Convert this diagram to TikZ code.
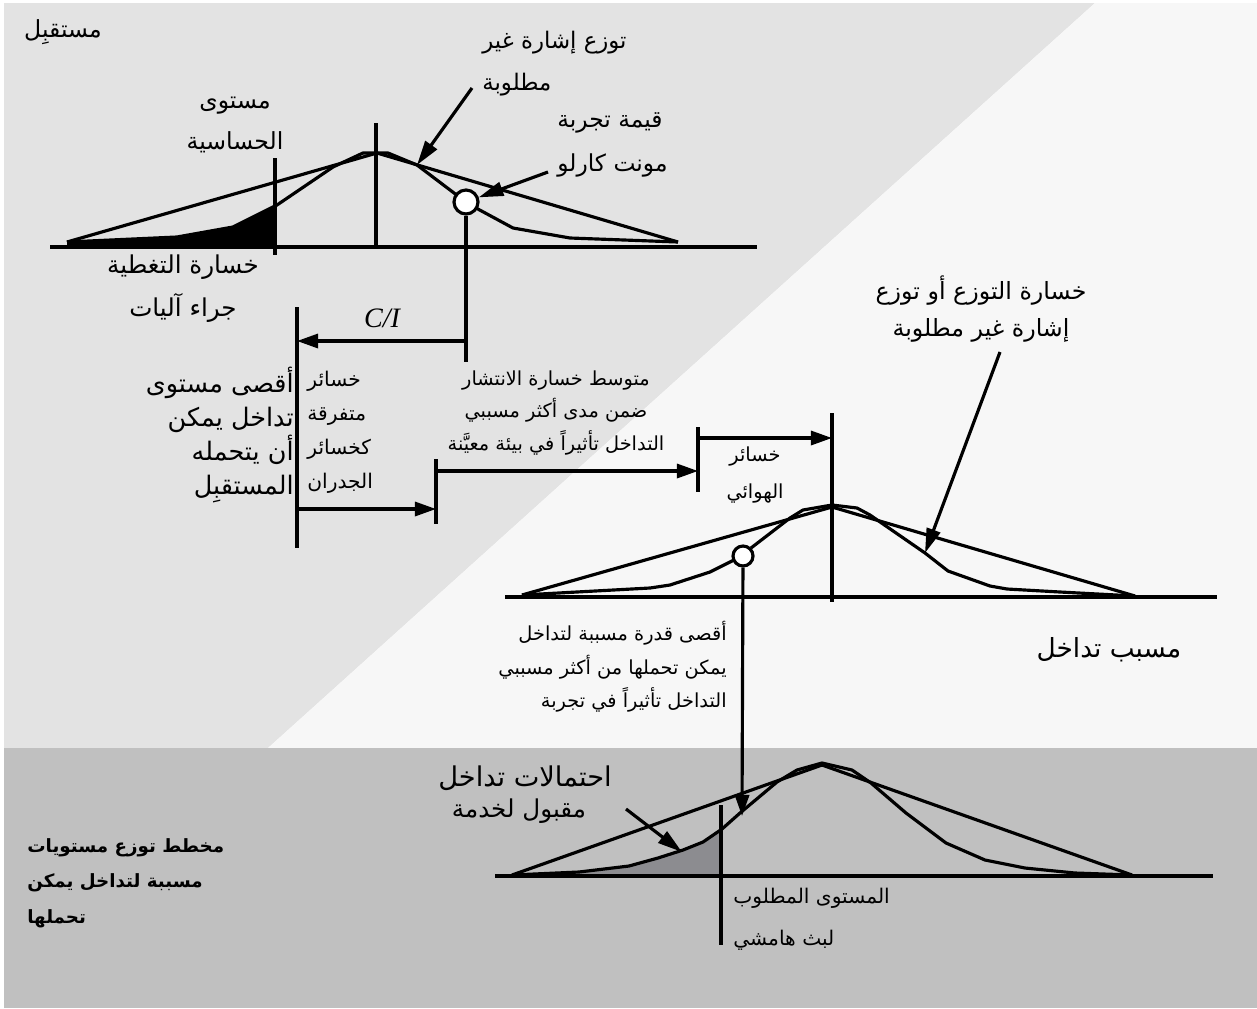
\documentclass[tikz,border=0pt]{standalone}
\usepackage{fontspec}
\setmainfont{Liberation Serif}
\newfontfamily\arabicfont[Script=Arabic]{DejaVu Sans}
\TeXXeTstate=1
\usetikzlibrary{arrows.meta}
\definecolor{lightg}{HTML}{E3E3E3}
\definecolor{nearw}{HTML}{F7F7F7}
\definecolor{darkg}{HTML}{C0C0C0}
\definecolor{tailgray}{HTML}{8C8C90}
\newcommand{\arfs}[2]{\arabicfont\fontsize{#1}{#2}\selectfont}
\begin{document}
\begin{tikzpicture}[x=0.02cm,y=-0.02cm,
  ln/.style={line width=1.8pt, line join=round},
  base/.style={line width=2.2pt},
  arr/.style={line width=1.8pt, -{Triangle[length=12pt,width=8pt]}},
  ptr/.style={line width=1.8pt, -{Triangle[length=14pt,width=8pt]}},
  ar/.style={inner sep=0pt},
  mk/.style={circle, draw, fill=white, line width=1.8pt, inner sep=0pt}
]
\useasboundingbox (0,0) rectangle (1257,1008);
% backgrounds
\fill[white] (0,0) rectangle (1257,1008);
\fill[lightg] (4,3) -- (1095,3) -- (268,748) -- (4,748) -- cycle;
\fill[nearw] (1095,3) -- (1257,3) -- (1257,748) -- (268,748) -- cycle;
\fill[darkg] (4,748) rectangle (1257,1008);

% ===== top graph (receiver) =====
\fill[black] (67,243) -- (177,237) -- (233,227) -- (275,206) -- (275,246) -- (67,246) -- cycle;
\draw[base] (50,247) -- (757,247);
\draw[ln] (67,242) -- (377,153) -- (678,242);
\draw[ln] (67,242) -- (177,237) -- (233,227) -- (277,205) -- (333,167) -- (363,153) -- (388,153) -- (417,165) -- (458,196);
\draw[ln] (476,208) -- (513,228) -- (570,238) -- (678,242);
\draw[ln] (376,123) -- (376,247);
\draw[ln] (275,158) -- (275,255);
\node[mk, minimum size=0.48cm] (mc1) at (466,202) {};

% ===== middle graph (interferer) =====
\draw[base] (505,597) -- (1217,597);
\draw[ln] (522,595) -- (832,507) -- (1135,596);
\draw[ln] (522,595) -- (650,588) -- (670,585) -- (710,572) -- (736,559);
\draw[ln] (751,548) -- (790,518) -- (803,510) -- (832,505) -- (857,508) -- (870,515) -- (925,553) -- (948,571) -- (990,586) -- (1007,589) -- (1060,592) -- (1135,596);
\draw[ln] (832,413) -- (832,602);
\node[mk, minimum size=0.40cm] (mc2) at (743,556) {};

% ===== bottom graph =====
\fill[tailgray] (512,875) -- (579,872) -- (629,866) -- (658,858) -- (683,850) -- (703,842) -- (721,830) -- (721,875) -- cycle;
\draw[base] (495,876) -- (1213,876);
\draw[ln] (512,875) -- (822,765) -- (1132,875);
\draw[ln] (512,875) -- (579,872) -- (629,866) -- (658,858) -- (683,850) -- (703,842) -- (722,829) -- (740,813) -- (777,782) -- (797,770) -- (822,763) -- (852,770) -- (871,783) -- (906,813) -- (946,843) -- (985,860) -- (1025,868) -- (1075,873) -- (1132,875);
\draw[ln] (721,805) -- (721,945);

% ===== dimension lines =====
\coordinate (ciend) at (466,362);
\draw[ln] (mc1) -- (ciend);
\coordinate (cistart) at (466,341);
\coordinate (citip) at (297,341);
\draw[arr] (cistart) -- (citip);
\coordinate (lvtop) at (297,307);
\coordinate (lvbot) at (297,548);
\draw[ln] (lvtop) -- (lvbot);
\coordinate (t1top) at (436,459);
\coordinate (t1bot) at (436,524);
\draw[ln] (t1top) -- (t1bot);
\coordinate (a1s) at (297,509);
\coordinate (a1e) at (436,509);
\draw[arr] (a1s) -- (a1e);
\coordinate (t2top) at (698,427);
\coordinate (t2bot) at (698,492);
\draw[ln] (t2top) -- (t2bot);
\coordinate (a2s) at (436,471);
\coordinate (a2e) at (698,471);
\draw[arr] (a2s) -- (a2e);
\coordinate (a3s) at (698,438);
\coordinate (a3e) at (832,438);
\draw[arr] (a3s) -- (a3e);
\coordinate (dropend) at (742,816);
\draw[arr] (mc2) -- (dropend);

% ===== texts =====
\node[ar, font=\arfs{13.4}{23.8}] (rx) at (63,32) {\beginR مستقبِل\endR};
\node[ar, align=center, font=\arfs{13.4}{23.8}] (sens) at (235,125) {\beginR مستوى\endR\\\beginR الحساسية\endR};
\node[ar, align=center, font=\arfs{14}{24.4}] (cov) at (183,289) {\beginR خسارة التغطية\endR\\\beginR جراء آليات\endR};
\node[ar, align=left, anchor=west, font=\arfs{13}{23.8}] (unw) at (482,64) {\beginR توزع إشارة غير\endR\\\beginR مطلوبة\endR};
\node[ar, align=left, anchor=west, font=\arfs{13.3}{24.9}] (mc) at (557,145) {\beginR قيمة تجربة\endR\\\beginR مونت كارلو\endR};
\node[inner sep=0pt, font=\fontsize{16}{19}\selectfont\itshape] (ci) at (382,318) {C/I};
\node[ar, align=right, anchor=east, font=\arfs{14.5}{19.3}] (maxI) at (294,435) {\beginR أقصى مستوى\endR\\\beginR تداخل يمكن\endR\\\beginR أن يتحمله\endR\\\beginR المستقبِل\endR};
\node[ar, align=left, anchor=west, font=\arfs{11.5}{19.3}] (wall) at (307,432) {\beginR خسائر\endR\\\beginR متفرقة\endR\\\beginR كخسائر\endR\\\beginR الجدران\endR};
\node[ar, align=center, font=\arfs{11}{18.7}] (prop) at (556,413) {\beginR متوسط خسارة الانتشار\endR\\\beginR ضمن مدى أكثر مسببي\endR\\\beginR التداخل تأثيراً في بيئة معيَّنة\endR};
\node[ar, align=center, font=\arfs{11}{21.5}] (ant) at (755,475) {\beginR خسائر\endR\\\beginR الهوائي\endR};
\node[ar, align=center, font=\arfs{13.5}{21}] (unw2) at (981,309) {\beginR خسارة التوزع أو توزع\endR\\\beginR إشارة غير مطلوبة\endR};
\node[ar, align=right, anchor=east, font=\arfs{11}{19}] (maxP) at (727,667) {\beginR أقصى قدرة مسببة لتداخل\endR\\\beginR يمكن تحملها من أكثر مسببي\endR\\\beginR التداخل تأثيراً في تجربة\endR};
\node[ar, font=\arfs{15}{20}] (intf) at (1109,650) {\beginR مسبب تداخل\endR};
\node[ar, font=\arfs{15.5}{20}] (acc) at (525,778) {\beginR احتمالات تداخل\endR};
\node[ar, font=\arfs{14}{20}] (acc2) at (519,811) {\beginR مقبول لخدمة\endR};
\node[ar, align=left, anchor=west, font=\arfs{11.5}{23.8}] (req) at (733,919) {\beginR المستوى المطلوب\endR\\\beginR لبث هامشي\endR};
\node[ar, align=left, anchor=west, font=\arabicfont\bfseries\fontsize{10.4}{20.1}\selectfont] (chart) at (27,883) {\beginR مخطط توزع مستويات\endR\\\beginR مسببة لتداخل يمكن\endR\\\beginR تحملها\endR};

% ===== pointer arrows =====
\coordinate (p1s) at (472,88);
\coordinate (p1e) at (417,165);
\draw[ptr] (p1s) -- (p1e);
\coordinate (p2s) at (548,172);
\draw[ptr] (p2s) -- (mc1);
\coordinate (p3s) at (1000,352);
\coordinate (p3e) at (925,553);
\draw[ptr] (p3s) -- (p3e);
\coordinate (p4s) at (626,809);
\coordinate (p4e) at (682,852);
\draw[ptr] (p4s) -- (p4e);
\end{tikzpicture}
\end{document}
